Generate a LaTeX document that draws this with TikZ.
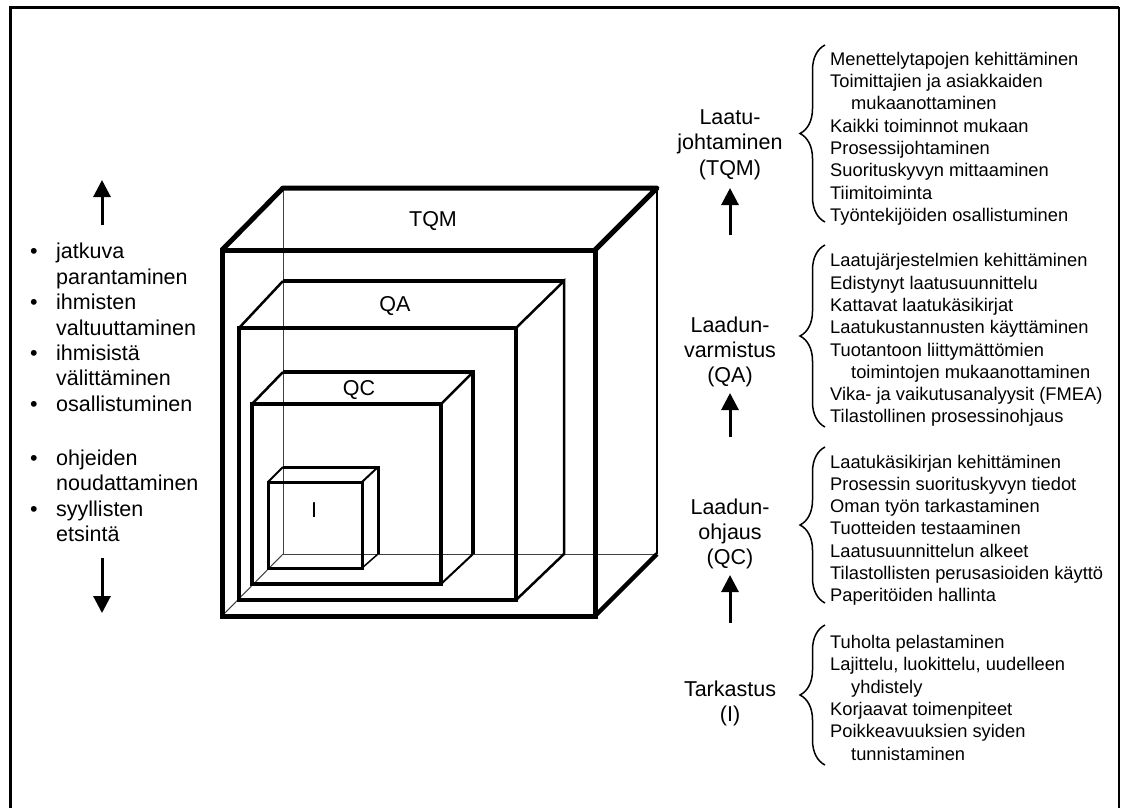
\documentclass[tikz,border=0pt]{standalone}
\usepackage{fontspec}
\setmainfont{Liberation Sans}
\usetikzlibrary{arrows.meta,decorations.pathreplacing}

\newcommand{\bitem}{\makebox[26pt][l]{•}}
\newcommand{\bcont}{\hspace*{26pt}}
\newcommand{\lcont}{\hspace*{21pt}}

\begin{document}
\begin{tikzpicture}[x=1pt,y=-1pt,
    lbl/.style={font=\fontsize{21.5}{25.4}\selectfont,align=center,inner sep=0pt},
    side/.style={font=\fontsize{21.5}{25.4}\selectfont,align=left,inner sep=0pt,anchor=west},
    lst/.style={font=\fontsize{18.3}{22.3}\selectfont,align=left,inner sep=0pt,anchor=west},
    bigarrow/.style={line width=3pt,-{Triangle[length=17pt,width=17pt]}},
    brc/.style={decorate,decoration={brace,amplitude=25pt},line width=1.5pt},
    hidden/.style={line width=1pt,black!75}]
    \useasboundingbox (0,0) rectangle (1123,807);
    % frame
    \draw[line width=3pt] (10,815) -- (10,7) -- (1119,7);
    \draw[line width=2pt] (1119,7) -- (1119,815);

    % hidden edges
    \draw[hidden] (283,188) -- (283,554) -- (657,554);
    \draw[hidden] (222,616) -- (283,554);
    % TQM
    \draw[line width=5pt] (222,250) rectangle (595,616);
    \draw[line width=5pt,line join=round] (222,250) -- (283,188) -- (657,188) -- (595,250);
    \draw[line width=4.5pt] (595,616) -- (657,554);
    \draw[line width=2.5pt] (657,188) -- (657,554);
    % QA
    \draw[line width=3.5pt] (239,328) rectangle (516,600);
    \draw[line width=3.5pt] (283,281) -- (564,281);
    \draw[line width=2.5pt] (239,328) -- (283,281);
    \draw[line width=2.5pt] (516,328) -- (564,281) -- (564,554) -- (516,600);
    % QC
    \draw[line width=3.5pt] (252,404) rectangle (441,584);
    \draw[line width=3.5pt] (283,372) -- (473,372) -- (473,554);
    \draw[line width=2.5pt] (252,404) -- (283,372);
    \draw[line width=2.5pt] (441,404) -- (473,372);
    \draw[line width=2pt] (441,584) -- (473,554);
    % I
    \draw[line width=3pt] (268,482) rectangle (362,568);
    \draw[line width=3pt] (283,467) -- (378,467) -- (378,554);
    \draw[line width=2pt] (268,482) -- (283,467);
    \draw[line width=2pt] (362,482) -- (378,467);
    \draw[line width=1.5pt] (362,568) -- (378,554);

    \node[lbl] (tqmbox) at (433,221) {TQM};
    \node[lbl] (qabox) at (395,306) {QA};
    \node[lbl] (qcbox) at (359,390) {QC};
    \node[lbl] (ibox) at (314,510) {I};

    % left side
    \coordinate (upfoot) at (102,225);
    \coordinate (uptip) at (102,180);
    \coordinate (downfoot) at (102,558);
    \coordinate (downtip) at (102,613);
    \draw[bigarrow] (upfoot) -- (uptip);
    \draw[bigarrow] (downfoot) -- (downtip);
    \node[side] (hyvat) at (30,327.5) {\bitem jatkuva\\\bcont parantaminen\\\bitem ihmisten\\\bcont valtuuttaminen\\\bitem ihmisistä\\\bcont välittäminen\\\bitem osallistuminen};
    \node[side] (huonot) at (30,496) {\bitem ohjeiden\\\bcont noudattaminen\\\bitem syyllisten\\\bcont etsintä};

    % levels
    \node[lbl] (tqm) at (730,144.5) {Laatu-\\johtaminen\\(TQM)};
    \node[lbl] (qa) at (730,352) {Laadun-\\varmistus\\(QA)};
    \node[lbl] (qc) at (730,534) {Laadun-\\ohjaus\\(QC)};
    \node[lbl] (ins) at (730,703.5) {Tarkastus\\(I)};

    \coordinate (tqmfoot) at (730,235);
    \coordinate (tqmtip) at (730,188);
    \coordinate (qafoot) at (730,437);
    \coordinate (qatip) at (730,393);
    \coordinate (qcfoot) at (730,623);
    \coordinate (qctip) at (730,575);
    \draw[bigarrow] (tqmfoot) -- (tqmtip);
    \draw[bigarrow] (qafoot) -- (qatip);
    \draw[bigarrow] (qcfoot) -- (qctip);

    \draw[brc] (825,222) -- (825,45);
    \draw[brc] (825,427) -- (825,245);
    \draw[brc] (825,603) -- (825,447);
    \draw[brc] (825,765) -- (825,625);

    \node[lst] (tqmlist) at (830,138.7) {Menettelytapojen kehittäminen\\Toimittajien ja asiakkaiden\\\lcont mukaanottaminen\\Kaikki toiminnot mukaan\\Prosessijohtaminen\\Suorituskyvyn mittaaminen\\Tiimitoiminta\\Työntekijöiden osallistuminen};
    \node[lst] (qalist) at (830,340.2) {Laatujärjestelmien kehittäminen\\Edistynyt laatusuunnittelu\\Kattavat laatukäsikirjat\\Laatukustannusten käyttäminen\\Tuotantoon liittymättömien\\\lcont toimintojen mukaanottaminen\\Vika- ja vaikutusanalyysit (FMEA)\\Tilastollinen prosessinohjaus};
    \node[lst] (qclist) at (830,530.2) {Laatukäsikirjan kehittäminen\\Prosessin suorituskyvyn tiedot\\Oman työn tarkastaminen\\Tuotteiden testaaminen\\Laatusuunnittelun alkeet\\Tilastollisten perusasioiden käyttö\\Paperitöiden hallinta};
    \node[lst] (ilist) at (830,697.7) {Tuholta pelastaminen\\Lajittelu, luokittelu, uudelleen\\\lcont yhdistely\\Korjaavat toimenpiteet\\Poikkeavuuksien syiden\\\lcont tunnistaminen};
\end{tikzpicture}
\end{document}
